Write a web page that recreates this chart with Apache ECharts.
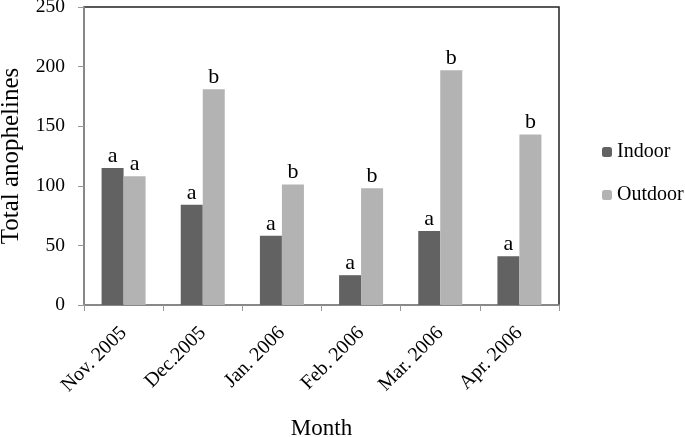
<!DOCTYPE html>
<html><head><meta charset="utf-8">
<script src="https://cdn.jsdelivr.net/npm/echarts@6/dist/echarts.min.js"></script>
<style>html,body{margin:0;padding:0;background:#fff}#c{width:685px;height:437px}</style>
</head><body><div id="c"></div>
<script>
var months = ['Nov. 2005', 'Dec.2005', 'Jan. 2006', 'Feb. 2006', 'Mar. 2006', 'Apr. 2006'];
var indoor = [115, 84, 58, 25, 62, 41];
var outdoor = [108, 181, 101, 98, 197, 143];
var indoorLetters = ['a', 'a', 'a', 'a', 'a', 'a'];
var outdoorLetters = ['a', 'b', 'b', 'b', 'b', 'b'];
var yTicks = [0, 50, 100, 150, 200, 250];

var font = 'Liberation Serif';
var chart = echarts.init(document.getElementById('c'));
function lbl(letters) {
  return { show: true, position: 'top', distance: 1, fontFamily: font, fontSize: 22, color: '#000',
    formatter: function (p) { return letters[p.dataIndex]; } };
}
chart.setOption({
  animation: false,
  textStyle: { fontFamily: font },
  grid: { left: 84, right: 126, top: 7, bottom: 132, show: true, borderColor: '#222', borderWidth: 1.5,
    outerBoundsMode: 'none', containLabel: false },
  legend: {
    orient: 'vertical', left: 597, top: 137, itemGap: 23, itemWidth: 10, itemHeight: 10,
    textStyle: { fontFamily: font, fontSize: 20, color: '#000' },
    data: ['Indoor', 'Outdoor']
  },
  xAxis: {
    type: 'category', data: months,
    name: 'Month', nameLocation: 'middle', nameGap: 112,
    nameTextStyle: { fontFamily: font, fontSize: 23, color: '#000' },
    axisLine: { lineStyle: { color: '#999', width: 1.5 } },
    axisTick: { show: true, length: 6, lineStyle: { color: '#999' } },
    axisLabel: { rotate: 45, fontFamily: font, fontSize: 20, color: '#000', margin: 25 }
  },
  yAxis: {
    type: 'value', min: 0, max: 250, interval: 50,
    name: 'Total anophelines', nameLocation: 'middle', nameGap: 60,
    nameTextStyle: { fontFamily: font, fontSize: 25, color: '#000' },
    axisLine: { show: true, lineStyle: { color: '#999', width: 1.5 } },
    axisTick: { show: true, length: 6, inside: false, lineStyle: { color: '#999' } },
    splitLine: { show: false },
    axisLabel: { fontFamily: font, fontSize: 19.5, color: '#000', margin: 19,
      formatter: function (v) { return yTicks.indexOf(v) >= 0 ? String(v) : ''; } }
  },
  series: [
    { name: 'Indoor', type: 'bar', data: indoor, barWidth: 22, barGap: '0%', itemStyle: { color: '#626262' }, label: lbl(indoorLetters) },
    { name: 'Outdoor', type: 'bar', data: outdoor, barWidth: 22, barGap: '0%', itemStyle: { color: '#b3b3b3' }, label: lbl(outdoorLetters) }
  ]
});
</script></body></html>
